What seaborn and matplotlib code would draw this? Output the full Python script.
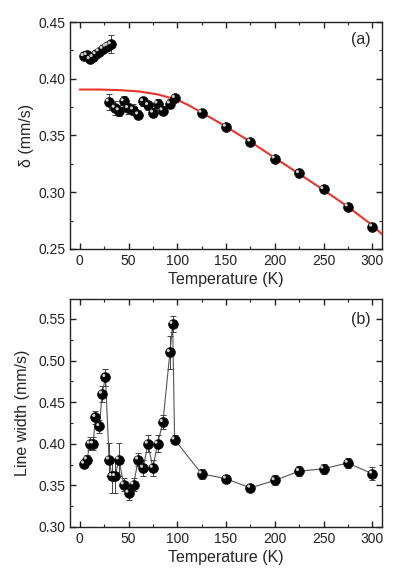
import numpy as np
import pandas as pd
import seaborn as sns
import matplotlib.pyplot as plt
from matplotlib.ticker import MultipleLocator
from matplotlib.transforms import offset_copy

# ---- painel (a): deslocamento isomérico ----
t_alto = [4.1, 7.2, 10.3, 13.4, 16.4, 19.5, 23.6, 26.7, 28.8, 31.9]
d_alto = [0.4198, 0.4207, 0.4172, 0.4190, 0.4215, 0.4240, 0.4262, 0.4282, 0.4290, 0.4303]
e_alto = [0.002, 0.002, 0.002, 0.002, 0.002, 0.002, 0.002, 0.002, 0.002, 0.008]

t_baixo = [29.8, 36.0, 40.1, 45.2, 49.7, 54.8, 60.0, 65.1, 70.2, 75.3, 79.8, 85.0, 92.5, 97.6,
           125, 150, 175, 200, 225, 250, 275, 300]
d_baixo = [0.3798, 0.3743, 0.3720, 0.3800, 0.3740, 0.3728, 0.3684, 0.3800, 0.3766, 0.3700,
           0.3780, 0.3720, 0.3780, 0.3830,
           0.3700, 0.3576, 0.3445, 0.3296, 0.3167, 0.3026, 0.2874, 0.2696]
e_baixo = [0.007, 0.006, 0.005, 0.005, 0.005, 0.005, 0.004, 0.004, 0.004, 0.004,
           0.004, 0.004, 0.004, 0.003,
           0.002, 0.002, 0.002, 0.002, 0.002, 0.002, 0.002, 0.002]

# curva de ajuste
t_ajuste = [0, 20, 40, 60, 80, 100, 112, 125, 137, 150, 175, 200, 225, 250, 275, 300, 310]
d_ajuste = [0.3905, 0.3905, 0.3900, 0.3889, 0.3862, 0.3815, 0.3765, 0.3702, 0.3643, 0.3578,
            0.3445, 0.3303, 0.3162, 0.3020, 0.2872, 0.2710, 0.2630]

# ---- painel (b): largura de linha ----
t_larg = [4.5, 7.5, 10.3, 13.7, 16.1, 20.2, 22.9, 26.4, 30.1, 32.9, 36.3, 40.1, 45.2, 50.0,
          55.2, 60.0, 65.1, 69.9, 75.0, 79.8, 85.3, 92.5, 95.3, 97.3,
          125, 150, 175, 200, 225, 250, 275, 300]
w_larg = [0.376, 0.381, 0.400, 0.400, 0.432, 0.421, 0.460, 0.480, 0.381, 0.361, 0.361, 0.381,
          0.351, 0.341, 0.351, 0.381, 0.371, 0.400, 0.371, 0.400, 0.426, 0.510, 0.544, 0.405,
          0.364, 0.358, 0.347, 0.356, 0.367, 0.370, 0.377, 0.364]
e_larg = [0.005, 0.005, 0.008, 0.008, 0.008, 0.008, 0.010, 0.010, 0.020, 0.020, 0.020, 0.020,
          0.008, 0.008, 0.008, 0.008, 0.010, 0.010, 0.010, 0.010, 0.008, 0.020, 0.010, 0.005,
          0.006, 0.005, 0.004, 0.006, 0.006, 0.006, 0.006, 0.008]

df_a1 = pd.DataFrame({'T': t_alto, 'd': d_alto})
df_a2 = pd.DataFrame({'T': t_baixo, 'd': d_baixo})
df_fit = pd.DataFrame({'T': t_ajuste, 'd': d_ajuste})
df_b = pd.DataFrame({'T': t_larg, 'w': w_larg})

sns.set_theme(style="ticks")
plt.rcParams['font.family'] = ['Liberation Sans', 'DejaVu Sans']
plt.rcParams['axes.linewidth'] = 1.0
plt.rcParams['axes.edgecolor'] = '#222222'

fig = plt.figure(figsize=(4.15, 5.82), dpi=100)
ax1 = fig.add_axes([70 / 415, 1 - 249 / 582, 312 / 415, 227 / 582])
ax2 = fig.add_axes([70 / 415, 1 - 527 / 582, 312 / 415, 228 / 582])


def esferas(ax, df, y):
    # bolinha preta com brilho, imitando o marcador do Origin
    sns.scatterplot(data=df, x='T', y=y, ax=ax, color='black', s=50,
                    edgecolor='#111111', linewidth=0.5, zorder=4, legend=False)
    tr = offset_copy(ax.transData, fig=fig, x=-1.2, y=1.2, units='points')
    ax.scatter(df['T'], df[y], s=5, color='#d0d0d0', edgecolor='none',
               transform=tr, zorder=5)


def estilo(ax):
    ax.set_xlim(-10, 310)
    ax.xaxis.set_major_locator(MultipleLocator(50))
    ax.xaxis.set_minor_locator(MultipleLocator(25))
    ax.yaxis.set_major_locator(MultipleLocator(0.05))
    ax.yaxis.set_minor_locator(MultipleLocator(0.025))
    ax.tick_params(which='both', direction='in', top=True, right=True,
                   labelsize=10, colors='#222222')
    ax.tick_params(which='major', length=4, width=1)
    ax.tick_params(which='minor', length=2.5, width=0.8)
    ax.set_xlabel('Temperature (K)', fontsize=11.5, labelpad=3)
    ax.yaxis.set_major_formatter(plt.FormatStrFormatter('%.2f'))


# ==========================================
# Painel (a)
# ==========================================
sns.lineplot(data=df_fit, x='T', y='d', ax=ax1, color='#e8342c', linewidth=1.5,
             estimator=None, sort=False, zorder=3)
ax1.errorbar(t_alto, d_alto, yerr=e_alto, fmt='none', ecolor='#444444',
             elinewidth=0.7, capsize=2.5, capthick=0.7, zorder=2)
ax1.errorbar(t_baixo, d_baixo, yerr=e_baixo, fmt='none', ecolor='#444444',
             elinewidth=0.7, capsize=2.5, capthick=0.7, zorder=2)
esferas(ax1, df_a1, 'd')
esferas(ax1, df_a2, 'd')
estilo(ax1)
ax1.set_ylim(0.25, 0.45)
ax1.set_ylabel('\u03b4 (mm/s)', fontsize=11.5, labelpad=3)
ax1.text(0.965, 0.925, '(a)', transform=ax1.transAxes, ha='right', va='center',
         fontsize=11.5)

# ==========================================
# Painel (b)
# ==========================================
sns.lineplot(data=df_b, x='T', y='w', ax=ax2, color='#555555', linewidth=0.8,
             estimator=None, sort=False, zorder=2)
ax2.errorbar(t_larg, w_larg, yerr=e_larg, fmt='none', ecolor='#444444',
             elinewidth=0.7, capsize=2.5, capthick=0.7, zorder=2)
esferas(ax2, df_b, 'w')
estilo(ax2)
ax2.set_ylim(0.30, 0.574)
ax2.set_ylabel('Line width (mm/s)', fontsize=11.5, labelpad=6)
ax2.text(0.965, 0.912, '(b)', transform=ax2.transAxes, ha='right', va='center',
         fontsize=11.5)

plt.savefig('out.png', dpi=100)
plt.close()
